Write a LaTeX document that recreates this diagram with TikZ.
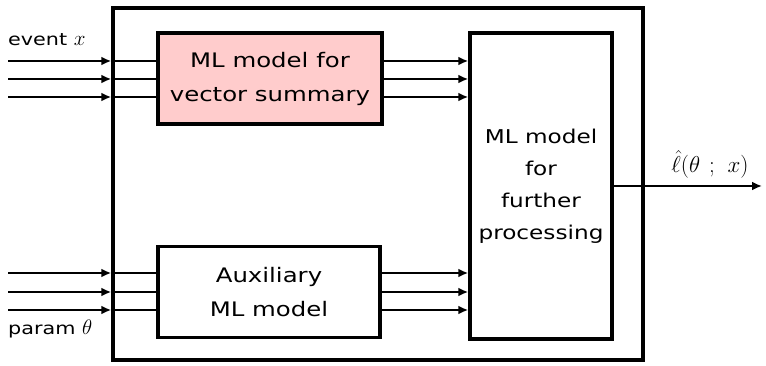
\documentclass[tikz,border=0pt]{standalone}
\usepackage{fix-cm}
\usepackage{fontspec}
\setmainfont[FakeStretch=1.22]{DejaVu Sans}
\usetikzlibrary{arrows.meta}
\definecolor{pinkfill}{RGB}{255,204,204}
\newcommand{\labmath}[1]{{\fontsize{21}{22}\selectfont$#1$}}
\begin{document}
\begin{tikzpicture}[x=1pt,y=-1pt,
  box/.style={draw, line width=3.5pt, inner sep=0pt, align=center, font=\fontsize{20}{34}\selectfont},
  arr/.style={line width=2.6pt, -{Latex[length=10pt,width=9pt]}},
  wire/.style={line width=2.6pt},
  lab/.style={font=\fontsize{17}{20}\selectfont, inner sep=0pt}]
\useasboundingbox (0,0) rectangle (766,366);
\node[box, minimum width=530pt, minimum height=352pt] (outer) at (378,184) {};
\node[box, fill=pinkfill, minimum width=224pt, minimum height=91pt] (vs) at (270,78.5) {ML model for\\vector summary};
\node[box, minimum width=222pt, minimum height=91pt] (aux) at (269,292) {Auxiliary\\ML model};
\node[box, minimum width=142pt, minimum height=306pt, font=\fontsize{19}{32}\selectfont] (fp) at (541,186) {ML model\\for\\further\\processing};
\foreach \yy in {61,79,97} {
  \coordinate (in) at (8,\yy);
  \draw[arr] (in) -- (outer.west |- in);
  \draw[wire] (outer.west |- in) -- (vs.west |- in);
  \draw[arr] (vs.east |- in) -- (fp.west |- in);
}
\foreach \yy in {273,292,310} {
  \coordinate (in) at (8,\yy);
  \draw[arr] (in) -- (outer.west |- in);
  \draw[wire] (outer.west |- in) -- (aux.west |- in);
  \draw[arr] (aux.east |- in) -- (fp.west |- in);
}
\coordinate (out) at (762,186);
\draw[line width=2.2pt, -{Latex[length=10pt,width=9pt]}] (fp.east |- out) -- (out);
\node[lab, anchor=west] (ex) at (8,40) {event \labmath{x}};
\node[lab, anchor=west] (pt) at (8,329) {param \labmath{\theta}};
\node[lab, font=\fontsize{23}{26}\selectfont] (ll) at (710,164) {$\hat{\ell}(\theta\ ;\ x)$};
\end{tikzpicture}
\end{document}
